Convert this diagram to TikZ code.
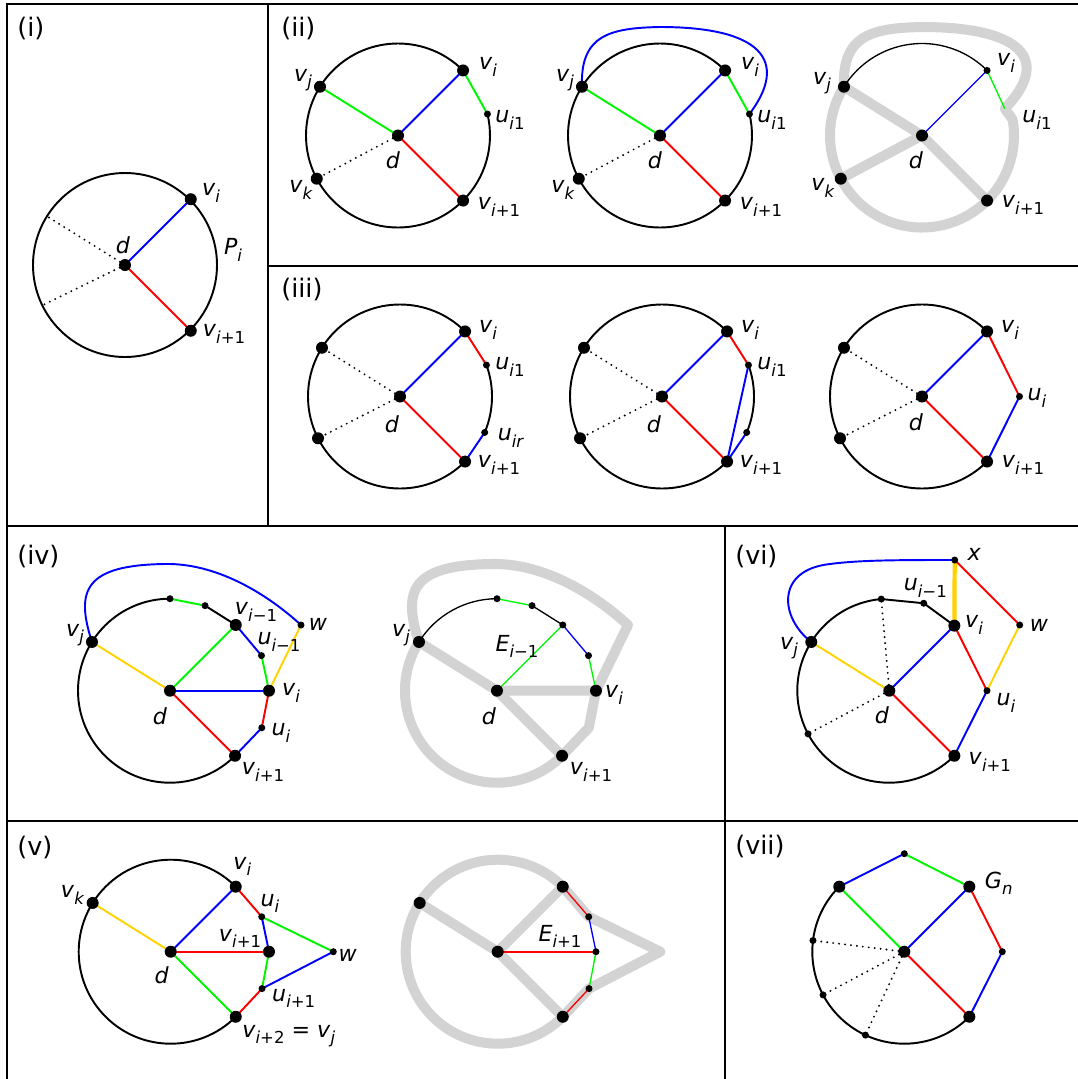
\documentclass[tikz,border=0pt]{standalone}
\usepackage{fontspec}
\setmainfont{DejaVu Sans}
\definecolor{cblue}{RGB}{0,0,255}
\definecolor{cred}{RGB}{255,0,0}
\definecolor{cgreen}{RGB}{0,245,0}
\definecolor{cyellow}{RGB}{255,210,0}
\definecolor{cgray}{RGB}{211,211,211}
\newcommand\sub[1]{\raisebox{-0.28em}{\fontsize{9.4}{10}\selectfont #1}}
\newcommand\iI{\textit{i}}
\newcommand\Lv[1]{\textit{v}\sub{#1}}
\newcommand\Lu[1]{\textit{u}\sub{#1}}
\newcommand\dotB[1]{\fill (#1) circle[radius=6];}
\newcommand\dotS[1]{\fill (#1) circle[radius=3.5];}
\begin{document}
\begin{tikzpicture}[x=0.02cm,y=-0.02cm,
  ring/.style={line width=1.1pt},
  edg/.style={line width=1.1pt},
  tedg/.style={line width=0.75pt},
  dotl/.style={line width=1.2pt,line cap=round,dash pattern=on 0pt off 3.4pt},
  grayp/.style={draw=cgray,line width=5.7pt,line join=round,line cap=round},
  lab/.style={inner sep=0pt,font=\fontsize{12.6}{14}\selectfont},
  plab/.style={inner sep=0pt,anchor=west,font=\fontsize{14.5}{16}\selectfont},
  pframe/.style={line width=1.1pt}]
\useasboundingbox (0,0) rectangle (1078,1079);
% frames
\draw[pframe] (7,1079) -- (7,4) -- (1078,4);
\draw[pframe] (268,4) -- (268,526);
\draw[pframe] (268,266) -- (1078,266);
\draw[pframe] (7,526) -- (1078,526);
\draw[pframe] (725,526) -- (725,1079);
\draw[pframe] (7,821) -- (1078,821);
\node[plab] (pl1) at (17,28) {(i)};
\node[plab] (pl2) at (281,28) {(ii)};
\node[plab] (pl3) at (281,289) {(iii)};
\node[plab] (pl4) at (17,556) {(iv)};
\node[plab] (pl6) at (735,556) {(vi)};
\node[plab] (pl5) at (17,848) {(v)};
\node[plab] (pl7) at (735,846) {(vii)};

% ---------- (i)
\begin{scope}[shift={(125,265)},yscale=-1]
\coordinate (d) at (0,0);
\coordinate (vi) at (45:93);
\coordinate (vi1) at (-45:93);
\coordinate (p1) at (148:92);
\coordinate (p2) at (206:92);
\draw[ring] (d) circle[radius=92];
\draw[dotl] (d) -- (p1);
\draw[dotl] (d) -- (p2);
\draw[edg,cblue] (d) -- (vi);
\draw[edg,cred] (d) -- (vi1);
\dotB{d}\dotB{vi}\dotB{vi1}
\node[lab] (a-vi) at (86,72) {\Lv{\iI}};
\node[lab] (a-P) at (108,15) {\textit{P}\sub{\iI}};
\node[lab] (a-vi1) at (99,-69) {\Lv{\iI+1}};
\node[lab] (a-d) at (-2,20) {\textit{d}};
\end{scope}

% ---------- (ii) A
\begin{scope}[shift={(398,135.5)},yscale=-1]
\coordinate (d) at (0,0);
\coordinate (vi) at (45:92);
\coordinate (vj) at (148:92);
\coordinate (vk) at (208:92);
\coordinate (vi1) at (-45:92);
\coordinate (ui1) at (13.5:92);
\draw[ring] (vi) arc[start angle=45,end angle=373.5,radius=92];
\draw[dotl] (d) -- (vk);
\draw[edg,cgreen] (vj) -- (d);
\draw[edg,cblue] (d) -- (vi);
\draw[edg,cred] (d) -- (vi1);
\draw[edg,cgreen] (vi) -- (ui1);
\dotB{d}\dotB{vi}\dotB{vj}\dotB{vk}\dotB{vi1}\dotS{ui1}
\node[lab] (b-vi) at (90,68.5) {\Lv{\iI}};
\node[lab] (b-vj) at (-95,55.5) {\Lv{\textit{j}}};
\node[lab] (b-u) at (112,15.5) {\Lu{\iI1}};
\node[lab] (b-d) at (-5,-24.5) {\textit{d}};
\node[lab] (b-vk) at (-97,-54.5) {\Lv{\textit{k}}};
\node[lab] (b-vi1) at (101,-71.5) {\Lv{\iI+1}};
\end{scope}

% ---------- (ii) B
\begin{scope}[shift={(660,135.5)},yscale=-1]
\coordinate (d) at (0,0);
\coordinate (vi) at (45:92);
\coordinate (vj) at (148:92);
\coordinate (vk) at (208:92);
\coordinate (vi1) at (-45:92);
\coordinate (ui1) at (13.5:92);
\draw[ring] (vi) arc[start angle=45,end angle=373.5,radius=92];
\draw[dotl] (d) -- (vk);
\draw[edg,cgreen] (vj) -- (d);
\draw[edg,cblue] (d) -- (vi);
\draw[edg,cred] (d) -- (vi1);
\draw[edg,cgreen] (vi) -- (ui1);
\draw[edg,cblue] (vj) .. controls (-80,100.5) and (-50,107.5) .. (0,108.5) .. controls (100,108.5) and (130,75.5) .. (ui1);
\dotB{d}\dotB{vi}\dotB{vj}\dotB{vk}\dotB{vi1}\dotS{ui1}
\node[lab] (c-vi) at (90,68.5) {\Lv{\iI}};
\node[lab] (c-vj) at (-95,55.5) {\Lv{\textit{j}}};
\node[lab] (c-u) at (112,15.5) {\Lu{\iI1}};
\node[lab] (c-d) at (-5,-24.5) {\textit{d}};
\node[lab] (c-vk) at (-97,-54.5) {\Lv{\textit{k}}};
\node[lab] (c-vi1) at (101,-71.5) {\Lv{\iI+1}};
\end{scope}

% ---------- (ii) C
\begin{scope}[shift={(922,135.5)},yscale=-1]
\coordinate (d) at (0,0);
\coordinate (vi) at (45:92);
\coordinate (vj) at (148:92);
\coordinate (vk) at (208:92);
\coordinate (vi1) at (-45:92);
\coordinate (ui1) at (18:87);
\draw[grayp] (vj) arc[start angle=148,end angle=370,radius=92] -- (ui1) .. controls (130,75.5) and (100,108.5) .. (0,108.5) .. controls (-50,107.5) and (-80,100.5) .. (vj);
\draw[grayp] (vj) -- (d) -- (vi1);
\draw[grayp] (d) -- (vk);
\draw[tedg] (vi) arc[start angle=45,end angle=148,radius=92];
\draw[tedg,cblue] (d) -- (vi);
\draw[tedg,cgreen] (vi) -- (ui1);
\dotB{d}\dotS{vi}\dotB{vj}\dotB{vk}\dotB{vi1}
\node[lab] (e-vi) at (84,72.5) {\Lv{\iI}};
\node[lab] (e-vj) at (-100,52.5) {\Lv{\textit{j}}};
\node[lab] (e-u) at (115,15.5) {\Lu{\iI1}};
\node[lab] (e-d) at (-6,-24.5) {\textit{d}};
\node[lab] (e-vk) at (-99,-52.5) {\Lv{\textit{k}}};
\node[lab] (e-vi1) at (101,-69.5) {\Lv{\iI+1}};
\end{scope}

% ---------- (iii) A
\begin{scope}[shift={(400,396.5)},yscale=-1]
\coordinate (d) at (0,0);
\coordinate (vi) at (45:92);
\coordinate (vi1) at (-45:92);
\coordinate (ui1) at (20:92);
\coordinate (uir) at (-23:92);
\coordinate (l1) at (148:92);
\coordinate (l2) at (207:92);
\draw[ring] (vi) arc[start angle=45,end angle=315,radius=92];
\draw[ring] (uir) arc[start angle=-23,end angle=20,radius=92];
\draw[dotl] (d) -- (l1);
\draw[dotl] (d) -- (l2);
\draw[edg,cblue] (d) -- (vi);
\draw[edg,cred] (d) -- (vi1);
\draw[edg,cred] (vi) -- (ui1);
\draw[edg,cblue] (uir) -- (vi1);
\dotB{d}\dotB{vi}\dotB{vi1}\dotB{l1}\dotB{l2}\dotS{ui1}\dotS{uir}
\node[lab] (f-vi) at (88,66.5) {\Lv{\iI}};
\node[lab] (f-u1) at (110,29.5) {\Lu{\iI1}};
\node[lab] (f-ur) at (111,-41.5) {\Lu{\textit{ir}}};
\node[lab] (f-vi1) at (99,-68.5) {\Lv{\iI+1}};
\node[lab] (f-d) at (-8,-27.5) {\textit{d}};
\end{scope}

% ---------- (iii) B
\begin{scope}[shift={(662,396.5)},yscale=-1]
\coordinate (d) at (0,0);
\coordinate (vi) at (45:92);
\coordinate (vi1) at (-45:92);
\coordinate (ui1) at (20:92);
\coordinate (uir) at (-23:92);
\coordinate (l1) at (148:92);
\coordinate (l2) at (207:92);
\draw[ring] (vi) arc[start angle=45,end angle=315,radius=92];
\draw[ring] (uir) arc[start angle=-23,end angle=20,radius=92];
\draw[dotl] (d) -- (l1);
\draw[dotl] (d) -- (l2);
\draw[edg,cblue] (d) -- (vi);
\draw[edg,cred] (d) -- (vi1);
\draw[edg,cred] (vi) -- (ui1);
\draw[edg,cblue] (ui1) -- (vi1);
\draw[edg,cblue] (uir) -- (vi1);
\dotB{d}\dotB{vi}\dotB{vi1}\dotB{l1}\dotB{l2}\dotS{ui1}\dotS{uir}
\node[lab] (g-vi) at (88,66.5) {\Lv{\iI}};
\node[lab] (g-u1) at (110,29.5) {\Lu{\iI1}};
\node[lab] (g-vi1) at (99,-68.5) {\Lv{\iI+1}};
\node[lab] (g-d) at (-8,-27.5) {\textit{d}};
\end{scope}

% ---------- (iii) C
\begin{scope}[shift={(922,396.5)},yscale=-1]
\coordinate (d) at (0,0);
\coordinate (vi) at (45:92);
\coordinate (vi1) at (-45:92);
\coordinate (ui) at (0:97.5);
\coordinate (l1) at (148:92);
\coordinate (l2) at (207:92);
\draw[ring] (vi) arc[start angle=45,end angle=315,radius=92];
\draw[dotl] (d) -- (l1);
\draw[dotl] (d) -- (l2);
\draw[edg,cblue] (d) -- (vi);
\draw[edg,cred] (d) -- (vi1);
\draw[edg,cred] (vi) -- (ui);
\draw[edg,cblue] (ui) -- (vi1);
\dotB{d}\dotB{vi}\dotB{vi1}\dotB{l1}\dotB{l2}\dotS{ui}
\node[lab] (h-vi) at (88,66.5) {\Lv{\iI}};
\node[lab] (h-u) at (115,-1.5) {\Lu{\iI}};
\node[lab] (h-vi1) at (101,-68.5) {\Lv{\iI+1}};
\node[lab] (h-d) at (-6,-25.5) {\textit{d}};
\end{scope}

% ---------- (iv) A
\begin{scope}[shift={(170,690.7)},yscale=-1]
\coordinate (d) at (0,0);
\coordinate (vj) at (148:92);
\coordinate (tp) at (90:92);
\coordinate (t2) at (67.6:92);
\coordinate (vim1) at (45:93);
\coordinate (uim1) at (21:98);
\coordinate (vi) at (0:99);
\coordinate (ui) at (-22:99);
\coordinate (vi1) at (-45:92);
\coordinate (w) at (131,65.7);
\draw[ring] (tp) arc[start angle=90,end angle=315,radius=92];
\draw[edg,cblue] (vj) .. controls (-95,100.7) and (-85,125.7) .. (-5,126.7) .. controls (45,127.7) and (95,98.7) .. (w);
\draw[edg,cgreen] (tp) -- (t2);
\draw[edg] (t2) -- (vim1);
\draw[edg,cblue] (vim1) -- (uim1);
\draw[edg,cgreen] (uim1) -- (vi);
\draw[edg,cred] (vi) -- (ui);
\draw[edg,cblue] (ui) -- (vi1);
\draw[edg,cgreen] (d) -- (vim1);
\draw[edg,cblue] (d) -- (vi);
\draw[edg,cred] (d) -- (vi1);
\draw[edg,cyellow] (d) -- (vj);
\draw[edg,cyellow] (vi) -- (w);
\dotB{d}\dotB{vj}\dotB{vim1}\dotB{vi}\dotB{vi1}\dotS{tp}\dotS{t2}\dotS{uim1}\dotS{ui}\dotS{w}
\node[lab] (k-vj) at (-95,55.7) {\Lv{\textit{j}}};
\node[lab] (k-vim) at (86,78.7) {\Lv{\iI−1}};
\node[lab] (k-w) at (148,66.7) {\textit{w}};
\node[lab] (k-uim) at (109,48.7) {\Lu{\iI−1}};
\node[lab] (k-vi) at (121,-2.3) {\Lv{\iI}};
\node[lab] (k-ui) at (111,-42.3) {\Lu{\iI}};
\node[lab] (k-d) at (-10,-25.3) {\textit{d}};
\node[lab] (k-vi1) at (93,-81.3) {\Lv{\iI+1}};
\end{scope}

% ---------- (iv) B
\begin{scope}[shift={(497,690.7)},yscale=-1]
\coordinate (d) at (0,0);
\coordinate (vj) at (148:92);
\coordinate (tp) at (90:92);
\coordinate (t2) at (67.6:92);
\coordinate (vim1) at (45:93);
\coordinate (uim1) at (21:98);
\coordinate (vi) at (0:99);
\coordinate (ui) at (-22:99);
\coordinate (vi1) at (-45:92);
\coordinate (w) at (131,65.7);
\draw[grayp] (vj) arc[start angle=148,end angle=315,radius=92] -- (ui) -- (vi) -- (w) .. controls (95,98.7) and (45,127.7) .. (-5,126.7) .. controls (-85,125.7) and (-95,100.7) .. (vj);
\draw[grayp] (vj) -- (d) -- (vi);
\draw[grayp] (d) -- (vi1);
\draw[tedg] (vj) arc[start angle=148,end angle=90,radius=92];
\draw[tedg,cgreen] (tp) -- (t2);
\draw[tedg] (t2) -- (vim1);
\draw[tedg,cblue] (vim1) -- (uim1);
\draw[tedg,cgreen] (uim1) -- (vi);
\draw[tedg,cgreen] (d) -- (vim1);
\dotB{d}\dotB{vj}\dotB{vi}\dotB{vi1}\dotS{tp}\dotS{t2}\dotS{vim1}\dotS{uim1}
\node[lab] (m-vj) at (-96,55.7) {\Lv{\textit{j}}};
\node[lab] (m-E) at (20,44) {\textit{E}\sub{\iI−1}};
\node[lab] (m-vi) at (117,-4.3) {\Lv{\iI}};
\node[lab] (m-d) at (-8,-25.3) {\textit{d}};
\node[lab] (m-vi1) at (94,-81.3) {\Lv{\iI+1}};
\end{scope}

% ---------- (vi)
\begin{scope}[shift={(889.3,690.7)},yscale=-1]
\coordinate (d) at (0,0);
\coordinate (vj) at (148:92);
\coordinate (vi) at (45:92);
\coordinate (vi1) at (-45:92);
\coordinate (tp) at (95:92);
\coordinate (uim1) at (68.5:94);
\coordinate (l2) at (208:92);
\coordinate (x) at (65.4,130.7);
\coordinate (w) at (130.4,65.7);
\coordinate (ui) at (97.7,0);
\draw[ring] (tp) arc[start angle=95,end angle=315,radius=92];
\draw[edg] (tp) -- (uim1) -- (vi);
\draw[dotl] (d) -- (tp);
\draw[dotl] (d) -- (l2);
\draw[edg,cblue] (vj) .. controls (-109.3,72.7) and (-114.3,120.7) .. (-59.3,126.7) .. controls (-29.3,130.7) and (10.7,130.7) .. (x);
\draw[edg,cyellow] (d) -- (vj);
\draw[edg,cblue] (d) -- (vi);
\draw[edg,cred] (d) -- (vi1);
\draw[line width=2.4pt,cyellow] (x) -- (vi);
\draw[edg,cred] (x) -- (w);
\draw[edg,cyellow] (w) -- (ui);
\draw[edg,cred] (vi) -- (ui);
\draw[edg,cblue] (ui) -- (vi1);
\dotB{d}\dotB{vj}\dotB{vi}\dotB{vi1}\dotS{tp}\dotS{uim1}\dotS{l2}\dotS{x}\dotS{w}\dotS{ui}
\node[lab] (n-x) at (85,136.7) {\textit{x}};
\node[lab] (n-uim) at (36,102.7) {\Lu{\iI−1}};
\node[lab] (n-vi) at (84.7,65.7) {\Lv{\iI}};
\node[lab] (n-w) at (149.7,65.7) {\textit{w}};
\node[lab] (n-vj) at (-100.3,42.7) {\Lv{\textit{j}}};
\node[lab] (n-ui) at (116.7,-12.3) {\Lu{\iI}};
\node[lab] (n-d) at (-7.3,-24.3) {\textit{d}};
\node[lab] (n-vi1) at (100.5,-71.3) {\Lv{\iI+1}};
\end{scope}

% ---------- (v) A
\begin{scope}[shift={(170.7,951.7)},yscale=-1]
\coordinate (d) at (0,0);
\coordinate (vi) at (45:92);
\coordinate (vk) at (148:92);
\coordinate (vi1) at (0:98.3);
\coordinate (vi2) at (-45:92);
\coordinate (ui) at (21:97.5);
\coordinate (ui1) at (-22:98.5);
\coordinate (w) at (162.6,0);
\draw[ring] (vi) arc[start angle=45,end angle=315,radius=92];
\draw[edg,cyellow] (d) -- (vk);
\draw[edg,cblue] (d) -- (vi);
\draw[edg,cred] (d) -- (vi1);
\draw[edg,cgreen] (d) -- (vi2);
\draw[edg,cred] (vi) -- (ui);
\draw[edg,cblue] (ui) -- (vi1);
\draw[edg,cgreen] (ui) -- (w);
\draw[edg,cgreen] (vi1) -- (ui1);
\draw[edg,cblue] (ui1) -- (w);
\draw[edg,cred] (ui1) -- (vi2);
\dotB{d}\dotB{vi}\dotB{vk}\dotB{vi1}\dotB{vi2}\dotS{ui}\dotS{ui1}\dotS{w}
\node[lab] (q-vi) at (71.6,85) {\Lv{\iI}};
\node[lab] (q-vk) at (-98,56.7) {\Lv{\textit{k}}};
\node[lab] (q-ui) at (99.3,48.4) {\Lu{\iI}};
\node[lab] (q-vi1) at (69.3,13.4) {\Lv{\iI+1}};
\node[lab] (q-w) at (177,-3.3) {\textit{w}};
\node[lab] (q-d) at (-9,-23.3) {\textit{d}};
\node[lab] (q-ui1) at (123,-46.6) {\Lu{\iI+1}};
\node[lab] (q-vi2) at (118,-84.3) {\Lv{\iI+2} = \Lv{\textit{j}}};
\end{scope}

% ---------- (v) B
\begin{scope}[shift={(497.7,951.7)},yscale=-1]
\coordinate (d) at (0,0);
\coordinate (vi) at (45:92);
\coordinate (vk) at (148:92);
\coordinate (vi1) at (0:98.3);
\coordinate (vi2) at (-45:92);
\coordinate (ui) at (21:97.5);
\coordinate (ui1) at (-22:98.5);
\coordinate (w) at (162.6,0);
\draw[grayp] (vi) arc[start angle=45,end angle=315,radius=92] -- (ui1) -- (w) -- (ui) -- (vi);
\draw[grayp] (vk) -- (d) -- (vi);
\draw[grayp] (d) -- (vi2);
\draw[edg,cred] (d) -- (vi1);
\draw[tedg,cred] (vi) -- (ui);
\draw[tedg,cblue] (ui) -- (vi1);
\draw[tedg,cgreen] (vi1) -- (ui1);
\draw[tedg,cred] (ui1) -- (vi2);
\dotB{d}\dotB{vi}\dotB{vk}\dotB{vi2}\dotS{vi1}\dotS{ui}\dotS{ui1}
\node[lab] (r-E) at (62.3,15) {\textit{E}\sub{\iI+1}};
\end{scope}

% ---------- (vii)
\begin{scope}[shift={(904.3,951.7)},yscale=-1]
\coordinate (d) at (0,0);
\coordinate (tl) at (135:92);
\coordinate (tr) at (45:92);
\coordinate (br) at (-45:92);
\coordinate (tp) at (90:98);
\coordinate (rt) at (0:98);
\coordinate (l1) at (173:92);
\coordinate (l2) at (208:92);
\coordinate (l3) at (245:92);
\draw[ring] (tl) arc[start angle=135,end angle=315,radius=92];
\draw[dotl] (d) -- (l1);
\draw[dotl] (d) -- (l2);
\draw[dotl] (d) -- (l3);
\draw[edg,cblue] (tl) -- (tp);
\draw[edg,cgreen] (tp) -- (tr);
\draw[edg,cgreen] (d) -- (tl);
\draw[edg,cblue] (d) -- (tr);
\draw[edg,cred] (d) -- (br);
\draw[edg,cred] (tr) -- (rt);
\draw[edg,cblue] (rt) -- (br);
\dotB{d}\dotB{tl}\dotB{tr}\dotB{br}\dotS{tp}\dotS{rt}\dotS{l1}\dotS{l2}\dotS{l3}
\node[lab] (s-G) at (94.4,68.4) {\textit{G}\sub{\textit{n}}};
\end{scope}
\end{tikzpicture}
\end{document}
